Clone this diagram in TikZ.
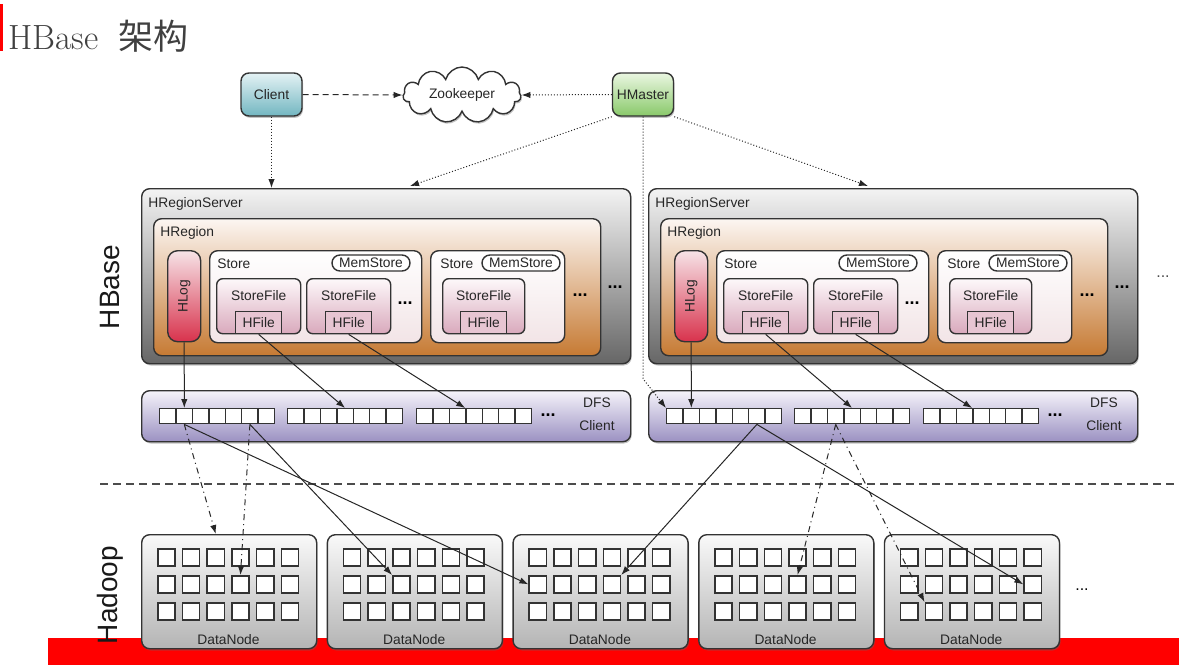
\documentclass[tikz,border=0pt]{standalone}
\usepackage{fontspec}
\setsansfont{Liberation Sans}
\newfontfamily\cjk{Noto Sans CJK SC}
\usetikzlibrary{shapes.symbols,shadows,arrows.meta}

\definecolor{edge}{HTML}{333333}
\definecolor{cltop}{HTML}{E4F2F4}
\definecolor{clbot}{HTML}{72B6C1}
\definecolor{hmtop}{HTML}{EAF6E1}
\definecolor{hmbot}{HTML}{89C96A}
\definecolor{srvtop}{HTML}{F3F3F3}
\definecolor{srvbot}{HTML}{666666}
\definecolor{regtop}{HTML}{FCF6F2}
\definecolor{regbot}{HTML}{C67A33}
\definecolor{logtop}{HTML}{F6E3E7}
\definecolor{logbot}{HTML}{D8324C}
\definecolor{sttop}{HTML}{FFFFFF}
\definecolor{stbot}{HTML}{F2E4E6}
\definecolor{sftop}{HTML}{FDF8FA}
\definecolor{sfbot}{HTML}{D9A9BC}
\definecolor{hffill}{HTML}{E7C5D2}
\definecolor{dfstop}{HTML}{F5F3FA}
\definecolor{dfsbot}{HTML}{9B91C2}
\definecolor{dntop}{HTML}{F9F9F9}
\definecolor{dnbot}{HTML}{B4B4B4}
\definecolor{hadoopred}{HTML}{FF0000}

\tikzset{
  lbl/.style={font=\sffamily\fontsize{6.9}{8}\selectfont, text=black!85, inner sep=0pt},
  dfslbl/.style={lbl, align=center, font=\sffamily\fontsize{6.9}{11.5}\selectfont},
  halo/.style={drop shadow={shadow xshift=0.5pt, shadow yshift=-0.9pt, opacity=0.4, fill=black!60}},
  boxbase/.style={draw=edge, line width=0.7pt, rounded corners=4pt, anchor=north west, inner sep=0pt},
  topbox/.style={draw=edge, line width=0.7pt, rounded corners=4pt, minimum width=30.5pt, minimum height=21.5pt, halo, lbl},
  srvbox/.style={boxbase, top color=srvtop, bottom color=srvbot, minimum width=244.5pt, minimum height=87.5pt, halo},
  regionbox/.style={boxbase, top color=regtop, bottom color=regbot, minimum width=223.5pt, minimum height=68.5pt},
  logbox/.style={boxbase, top color=logtop, bottom color=logbot, minimum width=16.5pt, minimum height=45.5pt, rounded corners=5pt},
  storebox/.style={boxbase, top color=sttop, bottom color=stbot, minimum height=46pt},
  filebox/.style={boxbase, top color=sftop, bottom color=sfbot, minimum height=27.5pt, rounded corners=3pt},
  hfilebox/.style={draw=edge, line width=0.7pt, fill=hffill, anchor=south, minimum width=23pt, minimum height=11pt, lbl},
  memstore/.style={draw=edge, line width=0.7pt, fill=white, rounded corners=4pt, minimum width=39pt, minimum height=8pt, lbl},
  dfsbox/.style={boxbase, top color=dfstop, bottom color=dfsbot, minimum width=244.5pt, minimum height=25.5pt, halo},
  blk/.style={draw=edge, line width=0.7pt, fill=white, anchor=north west, minimum width=8.2pt, minimum height=7.5pt, inner sep=0pt},
  dnbox/.style={boxbase, top color=dntop, bottom color=dnbot, minimum width=87.5pt, minimum height=57pt, halo},
  sq/.style={draw=edge, line width=0.75pt, fill=white, anchor=north west, minimum size=8.6pt, inner sep=0pt},
  ellip/.style={font=\sffamily\bfseries\fontsize{9}{9}\selectfont, inner sep=0pt},
  sidelbl/.style={font=\sffamily\fontsize{14}{16}\selectfont, rotate=90, inner sep=0pt, text=black!90},
  conn/.style={-{Latex[length=4.5pt,width=3.2pt]}, line width=0.5pt, black!85},
}

\begin{document}
\begin{tikzpicture}[x=0.5pt, y=-0.5pt]
\useasboundingbox (0,0) rectangle (1179,671);

% base strip, separator, title
\fill[hadoopred] (48,638) rectangle (1179,665);
\draw[black!70, line width=0.6pt, dash pattern=on 4pt off 2.5pt] (100,484) -- (1176,484);
\fill[hadoopred] (0,4) rectangle (2.5,51);
\node[anchor=base west, inner sep=0pt, text=black!75, font=\fontsize{17.5}{20}\selectfont] (title) at (8,49) {HBase\hspace{10pt}{\cjk 架构}};

% client, zookeeper, master
\node[topbox, top color=cltop, bottom color=clbot] (cl) at (271.5,94.5) {Client};
\node[cloud, cloud puffs=11, aspect=2.5, draw=edge, line width=0.7pt, fill=white, minimum width=59pt, minimum height=24pt, halo, lbl] (zk) at (462,95) {Zookeeper};
\node[topbox, top color=hmtop, bottom color=hmbot] (hm) at (643,94.5) {HMaster};

% region servers with their dfs clients
\foreach \s/\dx in {1/0,2/507}{
\begin{scope}[shift={(\dx,0)}]
  \node[srvbox] (hrs\s) at (141,188) {};
  \node[lbl, anchor=west] (hrsl\s) at (148,204) {HRegionServer};
  \node[regionbox] (hr\s) at (153,218) {};
  \node[lbl, anchor=west] (hrl\s) at (160,233) {HRegion};
  \node[logbox] (hlog\s) at (167,250) {};
  \node[lbl, rotate=90] (hlogl\s) at (hlog\s.center) {HLog};

  \node[storebox, minimum width=106pt] (sta\s) at (209,250) {};
  \node[lbl, anchor=west] (stal\s) at (217,264) {Store};
  \node[memstore] (msa\s) at (371,263) {MemStore};
  \node[filebox, minimum width=42pt] (sfa\s) at (216,278) {};
  \node[lbl] (sfal\s) at ([yshift=-9pt]sfa\s.north) {StoreFile};
  \node[hfilebox] (hfa\s) at (sfa\s.south) {HFile};
  \node[filebox, minimum width=42pt] (sfb\s) at (306,278) {};
  \node[lbl] (sfbl\s) at ([yshift=-9pt]sfb\s.north) {StoreFile};
  \node[hfilebox] (hfb\s) at (sfb\s.south) {HFile};
  \node[ellip] (dta\s) at (405,303) {...};

  \node[storebox, minimum width=67pt] (stb\s) at (430,250) {};
  \node[lbl, anchor=west] (stbl\s) at (440,264) {Store};
  \node[memstore] (msb\s) at (521,263) {MemStore};
  \node[filebox, minimum width=41pt] (sfc\s) at (442,278) {};
  \node[lbl] (sfcl\s) at ([yshift=-9pt]sfc\s.north) {StoreFile};
  \node[hfilebox] (hfc\s) at (sfc\s.south) {HFile};
  \node[ellip] (dtb\s) at (580,295) {...};
  \node[ellip] (dtc\s) at (615,287) {...};

  \node[dfsbox] (dfs\s) at (141,390) {};
  \foreach \r/\x in {1/159,2/287,3/416}
    \foreach \c in {1,...,7}
      \node[blk] (b\s-\r-\c) at ({\x+16.4*(\c-1)},408) {};
  \node[ellip] (dtd\s) at (548,415) {...};
  \node[dfslbl] (dfsl\s) at (597,414) {DFS\\Client};

  \draw[conn] (hlog\s.south) -- (b\s-1-2.north);
  \draw[conn] (hfa\s.south) -- (b\s-2-4.north);
  \draw[conn] (hfb\s.south) -- (b\s-3-4.north west);
\end{scope}
}
\node[ellip, font=\sffamily\fontsize{8}{8}\selectfont, text=black!70] (dtsrv) at (1163,277) {...};

% data nodes
\foreach \i in {1,...,5}{
  \node[dnbox] (dn\i) at ({141+185.7*(\i-1)},534) {};
  \node[lbl] (dnl\i) at ({228.5+185.7*(\i-1)},640) {DataNode};
  \foreach \k in {1,2,3}
    \foreach \j in {1,...,6}
      \node[sq] (d\i-\k-\j) at ({141+185.7*(\i-1)+16+24.7*(\j-1)},{548+27*(\k-1)}) {};
}
\node[ellip, font=\sffamily\fontsize{8}{8}\selectfont] (dtdn) at (1082,590) {...};

% side labels
\node[sidelbl] (hbasel) at (110,287) {HBase};
\node[sidelbl] (hadoopl) at (110,595) {Hadoop};

% connectors
\coordinate (hrs1top) at (410,186);
\coordinate (hrs2top) at (868,186);
\draw[conn, densely dashed] (cl.east) -- (zk.west);
\draw[conn, densely dotted] (hm.west) -- (zk.east);
\draw[conn, densely dotted] (cl.south) -- (cl.south |- hrs1.north);
\draw[conn, densely dotted] (hm.south west) -- (hrs1top);
\draw[conn, densely dotted] (hm.south east) -- (hrs2top);
\draw[conn, densely dotted] (hm.south) -- ++(0,262) -- (b2-1-1.north west);

\draw[conn, dash dot] (b1-1-2.south) -- (d1-1-3.north |- dn1.north);
\draw[conn] (b1-1-2.south) -- (d3-2-1.west);
\draw[conn, dash dot] (b1-1-6.south) -- (d1-2-4.north);
\draw[conn] (b1-1-6.south) -- (d2-2-3.north west);
\draw[conn] (b2-1-6.south) -- (d3-2-4.north east);
\draw[conn] (b2-1-6.south) -- (d5-2-6.west);
\draw[conn, dash dot] (b2-2-3.south) -- (d4-2-4.north);
\draw[conn, dash dot] (b2-2-3.south) -- (d5-3-2.north west);
\end{tikzpicture}
\end{document}
